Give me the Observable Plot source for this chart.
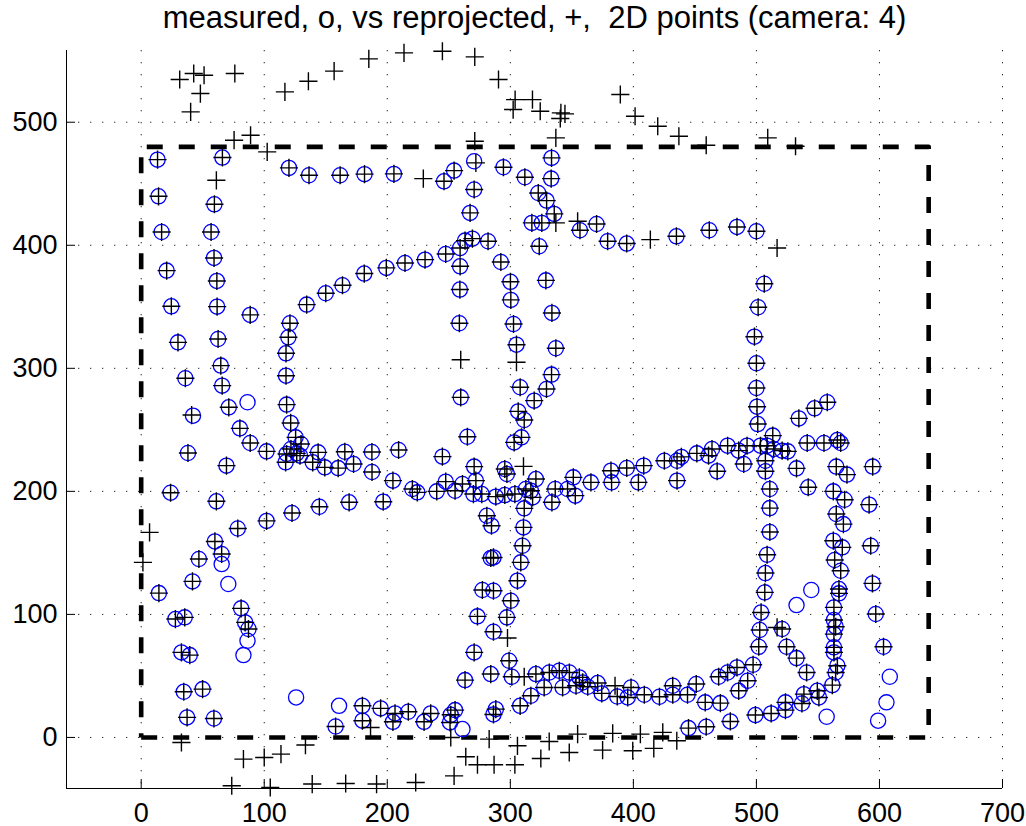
<!DOCTYPE html>
<html><head><meta charset="utf-8">
<script src="https://cdn.jsdelivr.net/npm/d3@7"></script>
<script src="https://cdn.jsdelivr.net/npm/@observablehq/plot@0.6"></script>
<style>body{margin:0;background:#fff;} svg{display:block}</style>
</head><body><div id="chart"></div>
<script>
const titleText = "measured, o, vs reprojected, +,  2D points (camera: 4)";
const xTicks = [0, 100, 200, 300, 400, 500, 600, 700];
const yTicks = [0, 100, 200, 300, 400, 500];
const xDomain = [-60.7, 700];
const yDomain = [-41.5, 558.3];
const rectX = [0, 640, 640, 0, 0];
const rectY = [0, 0, 480, 480, 0];

// measured 2D points (blue circles)
const measured = [
[13.3,469.6],[66.0,471.3],[14.1,439.8],[59.5,433.3],[16.6,410.8],[56.8,410.8],[120.1,462.9],[136.4,456.9],[161.7,456.9],[181.5,457.8],
[20.7,379.4],[59.2,389.7],[61.5,371.0],[150.0,361.0],[163.6,367.5],[181.3,377.0],
[205.4,458.0],[246.1,452.0],[254.3,460.7],[270.6,468.3],[294.4,463.4],[311.8,455.3],[333.5,471.0],[333.2,454.2],[270.6,445.3],[322.7,442.5],
[329.5,436.3],[267.3,426.3],[335.7,425.5],[317.5,418.2],[325.6,418.2],[356.6,412.2],[370.1,417.3],[379.1,403.3],[394.6,401.4],[435.0,407.3],
[199.2,381.6],[214.4,385.6],[230.7,388.3],[247.5,392.9],[259.2,397.8],[263.2,403.8],[269.2,405.4],[281.9,403.3],[259.2,382.9],[259.0,364.0],
[292.3,386.4],[300.1,370.3],[323.5,399.2],[328.9,371.5],
[461.7,412.2],[484.2,414.9],[500.0,411.4],[506.4,368.7],
[24.5,350.4],[61.7,350.1],[88.6,343.4],[29.9,321.1],[62.5,323.8],[64.7,302.2],[35.9,291.9],[65.8,285.9],[42.1,261.5],[71.2,268.3],
[86.4,272.4],[80.2,251.2],[88.6,239.3],[101.9,232.5],[38.0,231.2],[69.3,220.9],
[120.9,336.6],[119.6,325.2],[117.7,312.2],[117.7,294.0],[118.2,270.5],[121.5,255.6],[134.5,351.8],
[125.5,243.9],[129.9,238.5],[121.7,234.4],[118.2,230.4],[126.4,230.9],[117.4,223.6],[129.1,229.0],[139.4,223.6],[143.8,231.7],[149.2,219.5],
[160.1,218.9],[165.5,232.2],[172.6,222.2],[187.5,232.0],[187.6,215.7],
[23.9,198.9],[61.1,191.9],[101.9,176.0],[122.6,182.4],[144.8,187.5],[169.0,191.1],
[300.4,355.6],[258.6,336.6],[302.6,336.0],[333.8,345.0],[305.0,319.2],[337.0,316.3],[333.5,294.9],[308.0,284.6],[329.4,283.2],[319.4,273.7],
[259.7,276.4],[306.4,265.0],[311.3,258.0],[265.1,244.4],[309.1,243.9],[303.1,239.8],[209.2,233.6],[244.8,228.2],[270.6,220.1],[204.6,208.7],
[295.5,218.2],[297.2,214.1],[320.8,210.0],[247.5,207.9],[261.1,206.0],[272.0,208.7],[220.4,201.9],[224.4,199.2],[240.2,200.0],[255.1,200.5],
[270.0,197.8],[276.8,197.8],[288.2,195.7],[295.5,197.0],[303.7,197.8],[312.6,201.9],[316.7,200.5],[318.1,195.1],[196.7,191.6],[336.5,201.9],
[333.8,191.1],[346.5,201.9],[351.2,211.4],[352.8,196.5],[365.5,207.3],[381.8,216.8],[382.3,207.3],[394.6,219.0],[404.1,207.3],[408.4,220.9],
[425.2,224.9],[435.5,224.9],[435.5,208.7],[311.3,186.2],[280.9,180.2],[284.7,172.1],[310.7,170.7],
[501.4,349.6],[498.4,325.7],[500.0,304.1],[500.0,284.0],[500.5,268.8],[501.1,254.7],[534.5,259.3],[547.3,267.5],[557.6,272.4],[513.3,245.3],
[439.0,228.0],[451.6,230.9],[463.9,234.4],[461.1,229.0],[476.6,237.1],[485.6,233.1],[492.4,237.1],[489.7,222.2],[468.1,216.3],[503.3,237.1],
[508.7,237.1],[514.1,234.4],[520.9,233.1],[525.5,232.5],[507.3,224.9],[507.3,216.3],[541.3,239.3],[554.9,239.3],[565.8,241.7],[568.5,239.3],
[532.6,218.7],[564.9,220.1],[573.6,213.6],[594.5,220.1],[542.1,203.3],[510.9,201.9],[562.5,200.0],[571.7,193.2],[591.6,189.2],[510.9,186.4],
[564.9,181.6],[570.7,173.4],[510.9,167.0],
[14.4,117.3],[78.5,169.8],[59.9,159.3],[65.4,149.1],[65.4,140.9],[46.9,145.0],[70.8,124.7],[41.7,126.8],[81.2,104.9],[84.5,93.5],
[87.2,88.1],[86.4,78.6],[83.1,66.9],[27.8,96.2],[35.4,97.6],[32.7,69.1],[39.5,66.9],[34.6,37.1],[49.9,39.3],[37.3,16.3],
[59.1,15.4],[125.9,32.5],[160.8,25.7],[179.8,25.7],[179.8,13.6],[158.0,8.9],
[309.9,155.8],[284.1,145.8],[286.3,146.3],[308.5,142.3],[305.8,127.4],[277.3,119.8],[286.3,119.2],[300.4,111.1],[273.3,98.4],[297.2,97.6],
[286.3,85.9],[270.6,69.1],[299.0,62.3],[263.2,46.6],[284.1,51.5],[301.2,49.3],[320.8,51.5],[331.7,52.8],[339.8,54.2],[348.0,52.8],
[356.1,48.8],[358.8,44.7],[353.4,42.0],[362.9,41.2],[371.0,44.2],[374.3,35.8],[386.9,33.3],[395.4,32.5],[398.1,40.6],[408.9,34.7],
[421.2,33.1],[432.0,34.7],[432.0,42.0],[316.7,33.9],[327.5,40.6],[342.5,40.6],[308.0,25.7],[194.6,23.6],[206.3,19.5],[217.1,20.9],
[204.6,12.7],[235.3,19.5],[229.9,12.7],[255.1,22.2],[251.6,18.4],[251.0,12.2],[261.1,6.8],[288.2,23.0],[286.3,18.7],
[508.7,148.5],[507.3,133.6],[506.8,117.9],[503.8,101.6],[502.7,87.3],[501.9,73.7],[497.3,59.1],[492.9,46.1],[485.6,37.9],[484.2,56.9],
[476.6,52.8],[469.3,49.3],[451.1,43.4],[444.0,34.7],[458.4,28.5],[470.7,27.9],[444.8,7.6],[459.2,8.7],[478.8,13.0],[499.2,18.2],
[512.0,19.5],[523.6,28.5],[523.6,22.2],[537.0,27.6],[538.6,35.2],[549.5,37.9],[550.8,32.5],[557.1,16.8],[561.7,42.5],[564.4,52.8],
[565.8,58.3],[563.0,69.1],[563.0,73.2],[563.0,84.0],[564.4,90.0],[563.0,95.4],[563.0,105.7],[567.1,117.1],[567.1,120.6],[568.5,135.5],
[563.6,144.2],[569.8,154.5],[562.5,159.9],[592.9,155.8],[594.3,125.2],[597.0,100.3],[603.3,73.7],[608.4,49.3],[605.7,28.5],[598.9,13.6],
[544.6,119.8],[532.6,107.6],[520.9,88.1],[524.5,73.7],[532.6,64.5],[540.8,52.8]
];

// reprojected 2D points (black plus signs)
const reprojected = [
[13.3,469.6],[66.0,471.3],[14.1,439.8],[59.5,433.3],[16.6,410.8],[56.8,410.8],[120.1,462.9],[136.4,456.9],[161.7,456.9],[181.5,457.8],
[20.7,379.4],[59.2,389.7],[61.5,371.0],[150.0,361.0],[163.6,367.5],[181.3,377.0],
[205.4,458.0],[246.1,452.0],[254.3,460.7],[272.0,467.0],[294.4,463.4],[311.8,455.3],[333.5,471.0],[333.2,454.2],[270.6,445.3],[322.7,442.5],
[329.5,436.3],[267.3,426.3],[335.7,425.5],[317.5,418.2],[325.6,418.2],[356.6,412.2],[370.1,417.3],[379.1,403.3],[394.6,401.4],[435.0,407.3],
[199.2,381.6],[214.4,385.6],[230.7,388.3],[247.5,392.9],[259.2,397.8],[263.2,403.8],[269.2,405.4],[281.9,403.3],[259.2,382.9],[259.0,364.0],
[292.3,386.4],[300.1,370.3],[323.5,399.2],[328.9,371.5],
[461.7,412.2],[484.2,414.9],[500.0,411.4],[506.4,368.7],
[24.5,350.4],[61.7,350.1],[88.6,343.4],[29.9,321.1],[62.5,323.8],[64.7,302.2],[35.9,291.9],[65.8,285.9],[41.0,262.0],[71.2,268.3],
[80.2,251.2],[88.6,239.3],[101.9,232.5],[38.0,231.2],[69.3,220.9],
[120.9,336.6],[119.6,325.2],[117.7,312.2],[117.7,294.0],[118.2,270.5],[121.5,255.6],[134.5,351.8],
[125.5,243.9],[129.9,238.5],[121.7,234.4],[118.2,230.4],[126.4,230.9],[117.4,223.6],[129.1,229.0],[139.4,223.6],[143.8,231.7],[149.2,219.5],
[160.1,218.9],[165.5,232.2],[172.6,222.2],[187.5,232.0],[187.6,215.7],
[23.9,198.9],[61.1,191.9],[101.9,176.0],[122.6,182.4],[144.8,187.5],[169.0,191.1],
[300.4,355.6],[258.6,336.6],[302.6,336.0],[333.8,345.0],[305.0,319.2],[337.0,316.3],[333.5,294.9],[308.0,284.6],[329.4,283.2],[319.4,273.7],
[259.7,276.4],[306.4,265.0],[311.3,258.0],[265.1,244.4],[309.1,243.9],[303.1,239.8],[209.2,233.6],[244.8,228.2],[270.6,220.1],[204.6,208.7],
[295.5,218.2],[297.2,214.1],[320.8,210.0],[247.5,207.9],[261.1,206.0],[272.0,208.7],[220.4,201.9],[224.4,199.2],[240.2,200.0],[255.1,200.5],
[270.0,197.8],[276.8,197.8],[288.2,195.7],[295.5,197.0],[303.7,197.8],[312.6,201.9],[316.7,200.5],[318.1,195.1],[196.7,191.6],[336.5,201.9],
[333.8,191.1],[346.5,201.9],[351.2,211.4],[352.8,196.5],[365.5,207.3],[381.8,216.8],[382.3,207.3],[394.6,219.0],[404.1,207.3],[408.4,220.9],
[425.2,224.9],[435.5,224.9],[435.5,208.7],[311.3,186.2],[280.9,180.2],[284.7,172.1],[310.7,170.7],
[501.4,349.6],[498.4,325.7],[500.0,304.1],[500.0,284.0],[500.5,268.8],[501.1,254.7],[534.5,259.3],[547.3,267.5],[557.6,272.4],[513.3,245.3],
[439.0,228.0],[451.6,230.9],[463.9,234.4],[461.1,229.0],[476.6,237.1],[485.6,233.1],[492.4,237.1],[489.7,222.2],[468.1,216.3],[503.3,237.1],
[508.7,237.1],[514.1,234.4],[520.9,233.1],[525.5,232.5],[507.3,224.9],[507.3,216.3],[541.3,239.3],[554.9,239.3],[565.8,241.7],[568.5,239.3],
[532.6,218.7],[564.9,220.1],[573.6,213.6],[594.5,220.1],[542.1,203.3],[510.9,201.9],[562.5,200.0],[571.7,193.2],[591.6,189.2],[510.9,186.4],
[564.9,181.6],[570.7,173.4],[510.9,167.0],
[14.4,117.3],[78.5,169.8],[59.9,159.3],[65.4,149.1],[46.9,145.0],[41.7,126.8],[81.2,104.9],[84.5,93.5],
[87.2,88.1],[27.8,96.2],[35.4,97.6],[32.7,69.1],[39.5,66.9],[34.6,37.1],[49.9,39.3],[37.3,16.3],
[59.1,15.4],[179.8,25.7],[179.8,13.6],[158.0,8.9],
[309.9,155.8],[284.1,145.8],[286.3,146.3],[308.5,142.3],[305.8,127.4],[277.3,119.8],[286.3,119.2],[300.4,111.1],[273.3,98.4],[297.2,97.6],
[286.3,85.9],[270.6,69.1],[299.0,62.3],[263.2,46.6],[284.1,51.5],[301.2,49.3],[320.8,51.5],[331.7,52.8],[339.8,54.2],[348.0,52.8],
[356.1,48.8],[358.8,44.7],[353.4,42.0],[362.9,41.2],[371.0,44.2],[374.3,35.8],[386.9,33.3],[395.4,32.5],[398.1,40.6],[408.9,34.7],
[421.2,33.1],[432.0,34.7],[432.0,42.0],[316.7,33.9],[327.5,40.6],[342.5,40.6],[308.0,25.7],[194.6,23.6],[206.3,19.5],[217.1,20.9],
[204.6,12.7],[235.3,19.5],[229.9,12.7],[255.1,22.2],[251.6,18.4],[251.0,12.2],[288.2,23.0],[286.3,18.7],
[508.7,148.5],[507.3,133.6],[506.8,117.9],[503.8,101.6],[502.7,87.3],[501.9,73.7],[497.3,59.1],[492.9,46.1],[485.6,37.9],[484.2,56.9],
[476.6,52.8],[469.3,49.3],[451.1,43.4],[444.0,34.7],[458.4,28.5],[470.7,27.9],[444.8,7.6],[459.2,8.7],[478.8,13.0],[499.2,18.2],
[512.0,19.5],[523.6,28.5],[523.6,22.2],[537.0,27.6],[538.6,35.2],[549.5,37.9],[550.8,32.5],[561.7,42.5],[564.4,52.8],
[565.8,58.3],[563.0,69.1],[563.0,73.2],[563.0,84.0],[564.4,90.0],[563.0,95.4],[563.0,105.7],[567.1,117.1],[567.1,120.6],[568.5,135.5],
[563.6,144.2],[569.8,154.5],[562.5,159.9],[592.9,155.8],[594.3,125.2],[597.0,100.3],[603.3,73.7],
[520.9,88.1],[524.5,73.7],[532.6,64.5],[540.8,52.8],
[31.3,534.7],[42.7,539.6],[51.1,538.2],[76.1,539.6],[48.1,523.3],[40.2,508.4],[116.8,524.7],[135.9,533.3],[156.8,541.5],[185.0,551.5],
[75.5,485.4],[88.9,489.4],[102.4,475.9],[61.1,452.8],[213.6,556.4],[244.8,557.7],[271.1,553.1],[290.4,534.7],[303.9,518.4],[318.0,518.4],
[302.3,510.3],[324.3,508.9],[341.1,507.6],[344.4,506.8],[340.6,503.0],[389.4,522.5],[401.4,504.9],[419.8,496.7],[437.0,488.6],[337.0,487.3],
[271.1,484.6],[229.3,454.2],[337.0,418.2],[354.7,419.5],[413.8,404.6],[459.2,481.3],[509.2,487.3],[531.8,480.5],[516.8,397.8],
[259.7,307.0],[305.0,304.9],[310.7,220.3],[6.8,166.7],[1.4,142.3],[297.7,80.8],[311.3,49.3],[385.1,42.0],[516.8,89.4],[186.4,8.1],
[32.7,-4.1],[83.1,-17.6],[100.0,-16.3],[113.6,-13.6],[133.5,-6.2],[73.6,-39.3],[104.9,-40.7],[139.0,-37.9],[166.2,-37.4],[191.3,-37.9],
[223.1,-36.6],[254.3,-31.2],[263.8,-15.7],[273.3,-22.2],[286.8,-22.2],[303.7,-22.2],[324.8,-17.1],[251.6,0.0],[282.8,-1.4],[305.8,-6.8],
[331.6,-3.3],[354.7,2.7],[383.2,3.3],[405.7,2.7],[423.9,4.1],[347.9,-12.2],[375.0,-10.3],[399.5,-10.8],[416.6,-8.9],[435.3,-2.7]
];

const rect = rectX.map((x, i) => ({x, y: rectY[i]}));
const font = "'Liberation Sans', Arial, Helvetica, sans-serif";

const chart = Plot.plot({
  width: 1026, height: 826,
  marginLeft: 66, marginRight: 24, marginTop: 50, marginBottom: 38,
  style: {fontFamily: font, fontSize: "27px", background: "#fff", color: "#000", overflow: "visible"},
  x: {domain: xDomain, label: null},
  y: {domain: yDomain, label: null},
  marks: [
    Plot.gridX(xTicks, {stroke: "#000", strokeOpacity: 0.85, strokeWidth: 1, strokeDasharray: "1.3,10.7"}),
    Plot.gridY(yTicks, {stroke: "#000", strokeOpacity: 0.85, strokeWidth: 1, strokeDasharray: "1.3,10.7"}),
    Plot.line(rect, {x: "x", y: "y", stroke: "#000", strokeWidth: 4.6, strokeDasharray: "16,16", strokeLinecap: "butt"}),
    Plot.dot(measured, {x: d => d[0], y: d => d[1], r: 7.6, stroke: "#0000ff", strokeWidth: 1.3, fill: "none"}),
    Plot.dot(reprojected, {x: d => d[0], y: d => d[1], symbol: "plus", r: 5.9, stroke: "#000", strokeWidth: 1.4}),
    Plot.ruleX([xDomain[0]], {stroke: "#000", strokeWidth: 1}),
    Plot.ruleY([yDomain[0]], {stroke: "#000", strokeWidth: 1}),
    Plot.axisX(xTicks, {tickSize: -9, tickPadding: 23, label: null, fontSize: 27, strokeWidth: 1}),
    Plot.axisY(yTicks, {tickSize: -9, tickPadding: 18, label: null, fontSize: 27, strokeWidth: 1}),
    Plot.text([titleText], {text: d => d, frameAnchor: "top", dy: -45, fontSize: 31, fill: "#000"})
  ]
});
document.getElementById("chart").appendChild(chart);
</script>
</body></html>
